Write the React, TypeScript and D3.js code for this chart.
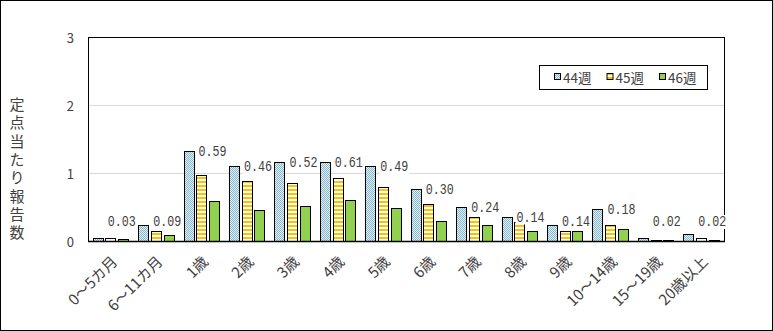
import React from "react";
import * as d3 from "d3";

const categories = ["0～5カ月", "6～11カ月", "1歳", "2歳", "3歳", "4歳", "5歳", "6歳", "7歳", "8歳", "9歳", "10～14歳", "15～19歳", "20歳以上"];
const seriesNames = ["44週", "45週", "46週"];
const week44 = [0.05, 0.23, 1.32, 1.10, 1.16, 1.16, 1.10, 0.76, 0.50, 0.36, 0.23, 0.47, 0.05, 0.10];
const week45 = [0.04, 0.15, 0.97, 0.88, 0.85, 0.92, 0.80, 0.54, 0.36, 0.28, 0.14, 0.23, 0.01, 0.05];
const week46 = [0.03, 0.09, 0.59, 0.46, 0.52, 0.61, 0.49, 0.30, 0.24, 0.14, 0.14, 0.18, 0.02, 0.02];
const yTicks = [0, 1, 2, 3];
const yTitle = "定点当たり報告数";

const W = 773;
const H = 331;
const plot = { left: 88, right: 724, top: 37, bottom: 241 };
const fills = ["url(#pat44)", "url(#pat45)", "#92d050"];
const textColor = "#404040";
const jpFont = "'Noto Sans CJK JP', 'Noto Sans', sans-serif";

export default function App() {
  const series = [week44, week45, week46];
  const x = d3.scaleBand<string>().domain(categories).range([plot.left, plot.right]).padding(0);
  const xs = d3.scaleBand<string>().domain(seriesNames).range([-18, 17.5]).paddingInner(0.2);
  const y = d3.scaleLinear().domain([0, 3]).range([plot.bottom, plot.top]);
  const center = (c: string) => (x(c) as number) + x.bandwidth() / 2;

  return (
    <svg width={W} height={H} style={{ position: "absolute", left: 0, top: 0, background: "#fff" }}>
      <defs>
        <pattern id="pat44" width={2} height={2} patternUnits="userSpaceOnUse">
          <rect width={2} height={2} fill="#e4f1f6" />
          <rect width={1} height={1} fill="#86b6cc" />
          <rect x={1} y={1} width={1} height={1} fill="#86b6cc" />
        </pattern>
        <pattern id="pat45" width={4} height={4} patternUnits="userSpaceOnUse">
          <rect width={4} height={4} fill="#ffffff" />
          <rect y={1} width={4} height={2} fill="#ffc000" />
        </pattern>
      </defs>
      <rect x={0.5} y={0.5} width={W - 1} height={H - 1} fill="#fff" stroke="#000" strokeWidth={1} />

      {/* gridlines */}
      {yTicks.filter((t) => t > 0 && t < 3).map((t) => (
        <line key={t} x1={plot.left} x2={plot.right} y1={Math.round(y(t)) + 0.5} y2={Math.round(y(t)) + 0.5} stroke="#d9d9d9" strokeWidth={1} />
      ))}

      {/* plot border */}
      <line x1={plot.left} x2={plot.right} y1={plot.top + 0.5} y2={plot.top + 0.5} stroke="#000" />
      <line x1={plot.left + 0.5} x2={plot.left + 0.5} y1={plot.top} y2={plot.bottom} stroke="#000" />
      <line x1={plot.right + 0.5} x2={plot.right + 0.5} y1={plot.top} y2={plot.bottom} stroke="#000" />

      {/* bars */}
      {series.map((vals, si) => (
        <g key={si}>
          {vals.map((v, ci) => {
            const c = categories[ci];
            const bx = center(c) + (xs(seriesNames[si]) as number);
            const top = y(v);
            return (
              <rect key={ci} x={Math.round(bx) + 0.5} y={Math.round(top) + 0.5} width={Math.round(xs.bandwidth())} height={Math.max(0, Math.round(y(0)) - Math.round(top))} fill={fills[si]} stroke="#000" strokeWidth={1} />
            );
          })}
        </g>
      ))}

      {/* x axis line */}
      <line x1={plot.left} x2={plot.right + 1} y1={plot.bottom + 0.5} y2={plot.bottom + 0.5} stroke="#000" strokeWidth={1.5} />

      {/* data labels (46週) */}
      {week46.map((v, ci) => {
        const c = categories[ci];
        const lx = center(c) + 11;
        const ly = Math.min(y(week44[ci]) + 1, y(0) - 19);
        return (
          <g key={ci}>
            <rect x={lx - 15} y={ly - 7} width={30} height={14} fill="#fff" />
            <text x={lx} y={ly} textAnchor="middle" dominantBaseline="central" fontFamily="'Liberation Mono', 'DejaVu Sans Mono', monospace" fontSize={14} textLength={28} lengthAdjust="spacingAndGlyphs" fill={textColor}>
              {v.toFixed(2)}
            </text>
          </g>
        );
      })}

      {/* y ticks */}
      {yTicks.map((t) => (
        <text key={t} x={74} y={y(t)} textAnchor="end" dominantBaseline="central" fontFamily={jpFont} fontSize={13} fill={textColor}>
          {t}
        </text>
      ))}

      {/* y title */}
      <text x={17} y={97} style={{ writingMode: "vertical-rl" }} fontFamily={jpFont} fontSize={15} letterSpacing={3.3} fill={textColor}>
        {yTitle}
      </text>

      {/* x labels */}
      {categories.map((c) => {
        const ax = center(c) + 3;
        const ay = plot.bottom + 17;
        return (
          <text key={c} x={ax} y={ay} transform={`rotate(-45, ${ax}, ${ay})`} textAnchor="end" dominantBaseline="central" fontFamily={jpFont} fontSize={15} fill={textColor}>
            {c}
          </text>
        );
      })}

      {/* legend */}
      <rect x={539.5} y={65.5} width={168} height={24} fill="#fff" stroke="#000" strokeWidth={1} />
      {seriesNames.map((s, i) => {
        const lx = 554 + i * 52.5;
        return (
          <g key={s}>
            <rect x={lx + 0.5} y={73.5} width={6} height={6} fill={fills[i]} stroke="#000" strokeWidth={1} />
            <text x={lx + 9} y={77} dominantBaseline="central" fontFamily={jpFont} fontSize={13.5} fill={textColor}>
              {s}
            </text>
          </g>
        );
      })}
    </svg>
  );
}
